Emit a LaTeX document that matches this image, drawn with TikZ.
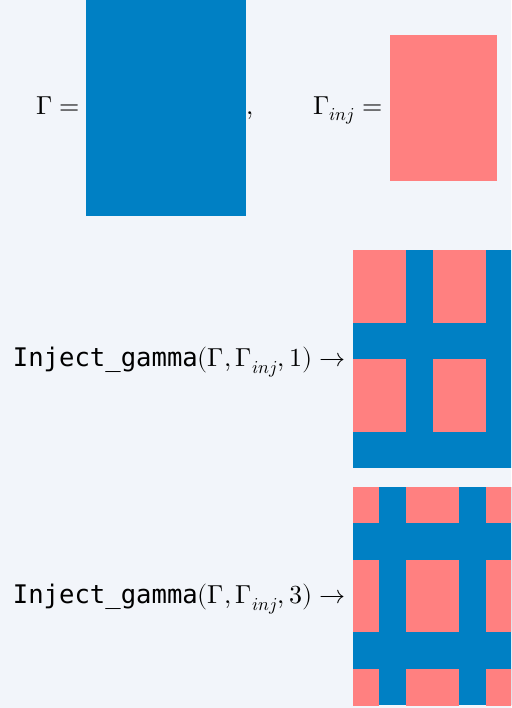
\documentclass[tikz,border=0pt]{standalone}
\usepackage{fontspec}
\usepackage{unicode-math}
\setmathfont{Latin Modern Math}
\setmonofont{DejaVu Sans Mono}
\definecolor{paper}{RGB}{242,245,250}
\definecolor{gblue}{RGB}{0,128,196}
\definecolor{gpink}{RGB}{255,128,128}

\begin{document}
\begin{tikzpicture}[x=1pt,y=-1pt,
    lbl/.style={inner sep=0pt,font=\fontsize{26}{30}\selectfont}]
        \useasboundingbox[fill=paper] (0,0) rectangle (511,708);
        % the two inputs
        \fill[gblue] (86,0) rectangle (246,216);
        \coordinate (gam) at (86,114.5);
        \fill[gpink] (390,35) rectangle (497,181);
        \coordinate (inj) at (390,114.5);
        \node[lbl,anchor=base east] (gameq) at ([xshift=-6]gam) {$\Gamma=$};
        \node[lbl,anchor=base west] (comma) at (246.5,114.5) {$,$};
        \node[lbl,anchor=base east] (injeq) at ([xshift=-7.5]inj) {$\Gamma_{inj}=$};
        % k = 1
        \begin{scope}
          \clip (353,250) rectangle (511,468);
          \fill[gblue] (353,250) rectangle (513,468);
          \foreach \i in {0,1}{
            \foreach \j in {0,1}{
              \fill[gpink] (353+80*\i,250+109*\j) rectangle ++(52.7,72.7);
            }
          }
        \end{scope}
        \node[lbl,anchor=base west] (callone) at (12.7,366.7) {{\fontsize{25.6}{30}\selectfont\ttfamily Inject\_gamma}$(\Gamma,\Gamma_{inj},1)\rightarrow$};
        % k = 3
        \begin{scope}
          \clip (353,487) rectangle (511,705);
          \fill[gblue] (353,487) rectangle (513,705);
          \foreach \i in {0,1,2}{
            \foreach \j in {0,1,2}{
              \fill[gpink] (326.3+80*\i,450.7+109*\j) rectangle ++(53,72.7);
            }
          }
        \end{scope}
        \node[lbl,anchor=base west] (callthree) at (12.7,603.7) {{\fontsize{25.6}{30}\selectfont\ttfamily Inject\_gamma}$(\Gamma,\Gamma_{inj},3)\rightarrow$};
\end{tikzpicture}
\end{document}
